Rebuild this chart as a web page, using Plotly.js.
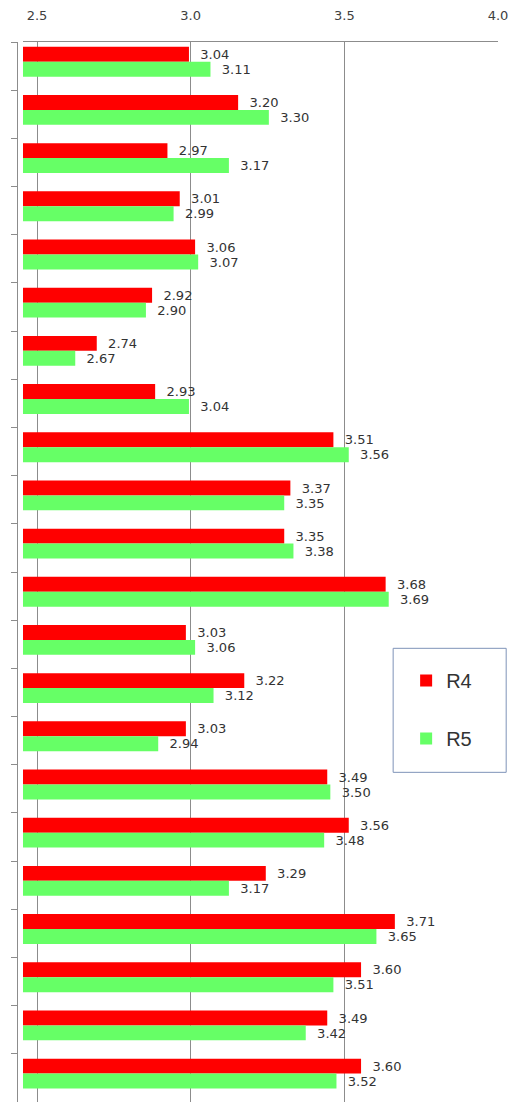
<!DOCTYPE html>
<html>
<head>
<meta charset="utf-8">
<script src="https://cdn.plot.ly/plotly-3.0.1.min.js"></script>
<style>html,body{margin:0;padding:0;background:#fff;}#chart{width:515px;height:1106px;}</style>
</head>
<body>
<div id="chart"></div>
<script>
const categories = ["1","2","3","4","5","6","7","8","9","10","11","12","13","14","15","16","17","18","19","20","21","22"];
const r4 = [3.04,3.20,2.97,3.01,3.06,2.92,2.74,2.93,3.51,3.37,3.35,3.68,3.03,3.22,3.03,3.49,3.56,3.29,3.71,3.60,3.49,3.60];
const r5 = [3.11,3.30,3.17,2.99,3.07,2.90,2.67,3.04,3.56,3.35,3.38,3.69,3.06,3.12,2.94,3.50,3.48,3.17,3.65,3.51,3.42,3.52];
const tickVals = [2.5,3.0,3.5,4.0];
const tickText = ["2.5","3.0","3.5","4.0"];

const labelFont = {family:"DejaVu Sans", size:14, color:"#333333"};

const traces = [
  {type:"bar", orientation:"h", name:"R4", legendgroup:"a", y:categories, x:r4,
   base:0, width:0.31, offset:-0.40,
   marker:{color:"#FF0000"},
   text:r4.map(v=>"\u00a0\u00a0"+v.toFixed(2)), textposition:"outside", textfont:labelFont,
   cliponaxis:false, hoverinfo:"x", xaxis:"x", yaxis:"y"},
  {type:"bar", orientation:"h", name:"R5", legendgroup:"b", y:categories, x:r5,
   base:0, width:0.31, offset:-0.09,
   marker:{color:"#66FF66"},
   text:r5.map(v=>"\u00a0\u00a0"+v.toFixed(2)), textposition:"outside", textfont:labelFont,
   cliponaxis:false, hoverinfo:"x", xaxis:"x", yaxis:"y"},
  {type:"scatter", mode:"markers", x:[3], y:[categories[0]], xaxis:"x2", yaxis:"y",
   marker:{opacity:0}, showlegend:false, hoverinfo:"skip"}
];

const layout = {
  width:515, height:1106,
  margin:{l:17, r:17, t:42, b:4},
  paper_bgcolor:"#ffffff", plot_bgcolor:"rgba(0,0,0,0)",
  barmode:"overlay",
  showlegend:true,
  legend:{x:0.809, y:0.416, xanchor:"left", yanchor:"top", bgcolor:"rgba(0,0,0,0)",
          borderwidth:0, font:{family:"Liberation Sans", size:20, color:"#333333"},
          tracegroupgap:29, traceorder:"grouped"},
  xaxis:{domain:[0.01247,1], range:[2.5,4.0456], visible:false, fixedrange:true},
  xaxis2:{overlaying:"x", side:"top", anchor:"y", range:[2.4544,4.0],
          tickvals:tickVals, ticktext:tickText, ticks:"", ticklabelstandoff:16,
          showgrid:true, gridcolor:"#8c8c8c", gridwidth:1, zeroline:false,
          showline:true, linecolor:"#8c8c8c", mirror:false,
          tickfont:{family:"DejaVu Sans", size:13, color:"#404040"}},
  yaxis:{type:"category", categoryorder:"array", categoryarray:categories,
         range:[21.5,-0.5], anchor:"free", position:0,
         showticklabels:false, ticks:"outside", ticklen:6, tickcolor:"#8c8c8c",
         tickson:"boundaries", showline:true, linecolor:"#8c8c8c", showgrid:false, zeroline:false},
  shapes:[
    {type:"rect", xref:"paper", yref:"paper", x0:0.782, x1:1.017, y0:0.311, y1:0.428,
     line:{color:"#7f93b8", width:1}, fillcolor:"rgba(255,255,255,0)", layer:"above"}
  ]
};

Plotly.newPlot("chart", traces, layout, {displayModeBar:false, staticPlot:true});
</script>
</body>
</html>
